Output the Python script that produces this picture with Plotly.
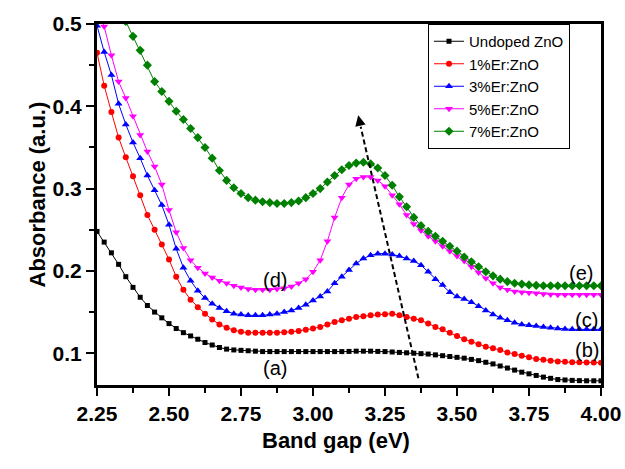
import plotly.graph_objects as go

energy = [2.25, 2.275, 2.30, 2.325, 2.35, 2.375, 2.40, 2.425, 2.45, 2.475,
          2.50, 2.525, 2.55, 2.575, 2.60, 2.625, 2.65, 2.675, 2.70, 2.725,
          2.75, 2.775, 2.80, 2.825, 2.85, 2.875, 2.90, 2.925, 2.95, 2.975,
          3.00, 3.025, 3.05, 3.075, 3.10, 3.125, 3.15, 3.175, 3.20, 3.225,
          3.25, 3.275, 3.30, 3.325, 3.35, 3.375, 3.40, 3.425, 3.45, 3.475,
          3.50, 3.525, 3.55, 3.575, 3.60, 3.625, 3.65, 3.675, 3.70, 3.725,
          3.75, 3.775, 3.80, 3.825, 3.85, 3.875, 3.90, 3.925, 3.95, 3.975, 4.00]

undoped = [0.248, 0.235, 0.222, 0.208, 0.193, 0.180, 0.168, 0.158, 0.150, 0.143,
           0.136, 0.130, 0.125, 0.121, 0.117, 0.113, 0.110, 0.107, 0.105, 0.104,
           0.1035, 0.103, 0.1025, 0.102, 0.102, 0.102, 0.102, 0.102, 0.102, 0.102,
           0.102, 0.102, 0.102, 0.102, 0.102, 0.1022, 0.1025, 0.1025, 0.1025, 0.1022,
           0.102, 0.1015, 0.101, 0.1005, 0.100, 0.0995, 0.099, 0.098, 0.097, 0.096,
           0.095, 0.094, 0.0925, 0.091, 0.089, 0.087, 0.0845, 0.082, 0.0795, 0.077,
           0.075, 0.073, 0.071, 0.0695, 0.068, 0.0675, 0.067, 0.0667, 0.0665, 0.0665, 0.0665]

er1 = [0.465, 0.425, 0.393, 0.362, 0.338, 0.315, 0.292, 0.268, 0.250, 0.232,
       0.214, 0.193, 0.177, 0.165, 0.156, 0.148, 0.141, 0.135, 0.131, 0.128,
       0.126, 0.125, 0.125, 0.125, 0.125, 0.125, 0.1255, 0.126, 0.127, 0.1285,
       0.130, 0.132, 0.135, 0.138, 0.140, 0.142, 0.144, 0.145, 0.146, 0.147,
       0.1475, 0.148, 0.146, 0.144, 0.142, 0.140, 0.136, 0.132, 0.129, 0.125,
       0.121, 0.117, 0.114, 0.111, 0.108, 0.106, 0.104, 0.101, 0.099, 0.097,
       0.095, 0.093, 0.092, 0.091, 0.090, 0.0895, 0.089, 0.089, 0.0888, 0.0886, 0.0885]

er3 = [0.498, 0.466, 0.438, 0.403, 0.378, 0.356, 0.337, 0.316, 0.298, 0.280,
       0.256, 0.227, 0.204, 0.188, 0.176, 0.167, 0.160, 0.155, 0.151, 0.148,
       0.147, 0.146, 0.146, 0.146, 0.147, 0.148, 0.150, 0.152, 0.155, 0.159,
       0.164, 0.169, 0.175, 0.185, 0.193, 0.201, 0.209, 0.215, 0.219, 0.221,
       0.221, 0.220, 0.218, 0.215, 0.212, 0.207, 0.199, 0.190, 0.183, 0.174,
       0.169, 0.166, 0.162, 0.157, 0.152, 0.147, 0.143, 0.140, 0.137, 0.135,
       0.134, 0.133, 0.132, 0.131, 0.130, 0.1295, 0.129, 0.129, 0.129, 0.129, 0.129]

er5 = [0.525, 0.497, 0.462, 0.430, 0.410, 0.388, 0.365, 0.345, 0.327, 0.305,
       0.274, 0.247, 0.228, 0.213, 0.204, 0.197, 0.192, 0.188, 0.185, 0.182,
       0.180, 0.178, 0.177, 0.177, 0.177, 0.178, 0.179, 0.181, 0.185, 0.190,
       0.199, 0.213, 0.236, 0.265, 0.289, 0.305, 0.312, 0.314, 0.314, 0.310,
       0.303, 0.292, 0.281, 0.268, 0.257, 0.249, 0.242, 0.236, 0.230, 0.224,
       0.218, 0.212, 0.205, 0.198, 0.191, 0.185, 0.180, 0.177, 0.175, 0.174,
       0.1735, 0.173, 0.172, 0.1715, 0.171, 0.171, 0.171, 0.171, 0.171, 0.171, 0.171]

er7 = [None, None, None, None, 0.503, 0.485, 0.468, 0.450, 0.430, 0.418,
       0.406, 0.394, 0.384, 0.373, 0.362, 0.350, 0.337, 0.322, 0.310, 0.301,
       0.294, 0.289, 0.286, 0.284, 0.283, 0.282, 0.282, 0.283, 0.285, 0.289,
       0.294, 0.300, 0.308, 0.316, 0.323, 0.328, 0.331, 0.332, 0.330, 0.325,
       0.316, 0.304, 0.290, 0.278, 0.265, 0.255, 0.248, 0.242, 0.236, 0.230,
       0.224, 0.217, 0.211, 0.205, 0.199, 0.194, 0.190, 0.187, 0.185, 0.184,
       0.183, 0.1825, 0.182, 0.182, 0.182, 0.182, 0.182, 0.182, 0.182, 0.182, 0.182]

series_names = ["Undoped ZnO", "1%Er:ZnO", "3%Er:ZnO", "5%Er:ZnO", "7%Er:ZnO"]
series_values = [undoped, er1, er3, er5, er7]
colors = ["#000000", "#FF0000", "#0000FF", "#FF00FF", "#008000"]
symbols = ["square", "circle", "triangle-up", "triangle-down", "diamond"]
msizes = [5, 6, 7, 7, 7]

x_ticks = [2.25, 2.50, 2.75, 3.00, 3.25, 3.50, 3.75, 4.00]
y_ticks = [0.1, 0.2, 0.3, 0.4, 0.5]
x_range = [2.25, 4.00]
y_range = [0.0614, 0.5]

curve_labels = ["(a)", "(b)", "(c)", "(d)", "(e)"]
label_x = [2.868, 3.95, 3.95, 2.868, 3.93]
label_y = [0.082, 0.104, 0.140, 0.189, 0.197]

arrow_tail = (3.366, 0.0695)
arrow_head = (3.157, 0.389)
arrow_neck = (3.1656, 0.3752)

FONT = "Liberation Sans, Arial, sans-serif"
INK = "#000000"
PLOT_W, PLOT_H = 504, 361

fig = go.Figure()
for name, vals, c, s, ms in zip(series_names, series_values, colors, symbols, msizes):
    fig.add_trace(go.Scatter(
        x=energy, y=vals, name=name, mode="lines+markers",
        line=dict(color=c, width=1),
        marker=dict(color=c, symbol=s, size=ms, line=dict(width=0)),
        cliponaxis=True,
    ))

for t, lx, ly in zip(curve_labels, label_x, label_y):
    fig.add_annotation(x=lx, y=ly, text=t, showarrow=False,
                       font=dict(family=FONT, size=20, color=INK))

fig.add_shape(type="line", x0=arrow_tail[0], y0=arrow_tail[1],
              x1=arrow_neck[0], y1=arrow_neck[1],
              line=dict(color=INK, width=2, dash="5px,3px"))
fig.add_annotation(x=arrow_head[0], y=arrow_head[1], ax=arrow_neck[0], ay=arrow_neck[1],
                   axref="x", ayref="y", xref="x", yref="y", text="",
                   showarrow=True, arrowhead=2, arrowsize=1.4, arrowwidth=1.5,
                   arrowcolor=INK)

# axis titles placed as paper annotations
fig.add_annotation(x=(336 - 97) / PLOT_W, y=-(455 - 385) / PLOT_H, xref="paper", yref="paper",
                   text="<b>Band gap (eV)</b>", showarrow=False,
                   font=dict(family=FONT, size=22, color=INK))
fig.add_annotation(x=-(97 - 22) / PLOT_W, y=(385 - 195) / PLOT_H, xref="paper", yref="paper",
                   text="<b>Absorbance (a.u.)</b>", showarrow=False, textangle=-90,
                   font=dict(family=FONT, size=22, color=INK))

fig.update_layout(
    template="none",
    width=625, height=469,
    margin=dict(l=97, r=24, t=24, b=84, autoexpand=False),
    paper_bgcolor="white", plot_bgcolor="white",
    font=dict(family=FONT, color=INK),
    legend=dict(x=(428 - 97) / PLOT_W, y=1, xanchor="left", yanchor="top",
                bordercolor=INK, borderwidth=1, bgcolor="white",
                font=dict(family=FONT, size=15)),
    showlegend=True,
    xaxis=dict(
        range=x_range, tickmode="linear", tick0=x_ticks[0], dtick=x_ticks[1] - x_ticks[0],
        tickformat=".2f",
        showline=True, linecolor=INK, linewidth=3, mirror=True,
        ticks="outside", ticklen=8, tickwidth=2, tickcolor=INK,
        minor=dict(ticks="outside", ticklen=5, tickwidth=2, tickcolor=INK,
                   dtick=(x_ticks[1] - x_ticks[0]) / 2),
        showgrid=False, zeroline=False,
        tickfont=dict(family=FONT, size=21, color=INK, weight="bold"),
    ),
    yaxis=dict(
        range=y_range, tickmode="linear", tick0=y_ticks[0], dtick=y_ticks[1] - y_ticks[0],
        tickformat=".1f",
        showline=True, linecolor=INK, linewidth=3, mirror=True,
        ticks="outside", ticklen=8, tickwidth=2, tickcolor=INK,
        minor=dict(ticks="outside", ticklen=5, tickwidth=2, tickcolor=INK,
                   dtick=(y_ticks[1] - y_ticks[0]) / 2),
        showgrid=False, zeroline=False,
        tickfont=dict(family=FONT, size=21, color=INK, weight="bold"),
    ),
)

fig.write_html("out.html", post_script="document.body.style.margin='0';",
               config={"displayModeBar": False})
